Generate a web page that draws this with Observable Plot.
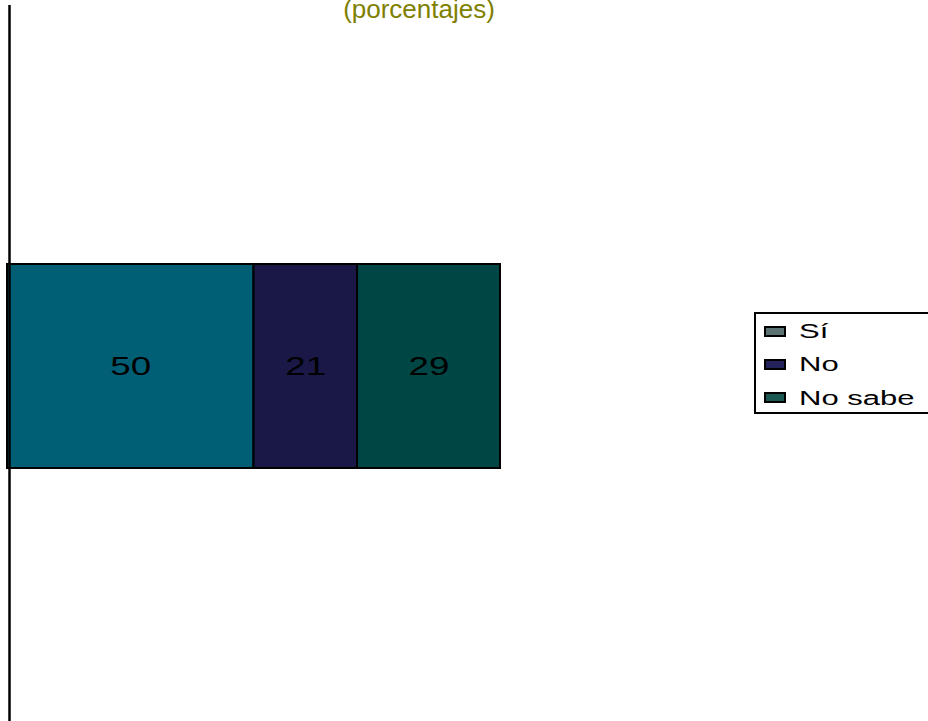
<!DOCTYPE html>
<html>
<head>
<meta charset="utf-8">
<script src="https://cdn.jsdelivr.net/npm/d3@7"></script>
<script src="https://cdn.jsdelivr.net/npm/@observablehq/plot@0.6"></script>
<style>
  html, body { margin: 0; padding: 0; background: #fff; overflow: hidden; }
  #wrap { position: relative; width: 928px; height: 721px; font-family: "Liberation Sans", Arial, sans-serif; }
  #chart { position: absolute; left: 0; top: 0; }
  #title { position: absolute; left: 0; width: 838px; top: -6px; text-align: center; color: #808000; font-size: 26px; line-height: 30px; z-index: 2; }
  #legend { position: absolute; left: 754px; top: 312px; width: 200px; height: 102px; border: 2px solid #000; background: #fff; box-sizing: border-box; }
  .item { position: absolute; left: 43px; font-size: 20px; color: #000; line-height: 20px; white-space: nowrap; transform: scaleX(1.55); transform-origin: left center; }
  .sw { position: absolute; left: 8px; width: 22px; height: 11px; border: 2px solid #000; box-sizing: border-box; }
</style>
</head>
<body>
<div id="wrap">
  <div id="chart"></div>
  <div id="title">(porcentajes)</div>
  <div id="legend"></div>
</div>
<script>
const categories = ["Sí", "No", "No sabe"];
const values = [50, 21, 29];
const colors = ["#005e75", "#191846", "#004645"];
const legendColors = ["#5a7272", "#23225a", "#1b5854"];

const data = categories.map((c, i) => ({group: "total", cat: c, value: values[i]}));

const chart = Plot.plot({
  width: 928,
  height: 721,
  marginLeft: 7,
  marginRight: 428,
  marginTop: 5,
  marginBottom: 0,
  x: {domain: [0, 100], axis: null},
  y: {domain: ["total"], range: [264, 468], padding: 0, axis: null},
  color: {domain: categories, range: colors},
  marks: [
    Plot.barX(data, {x: "value", y: "group", z: "cat", fill: "cat", stroke: "#000", strokeWidth: 2}),
    Plot.text(data, Plot.stackX({x: "value", y: "group", z: "cat", text: d => String(d.value), fill: "#000", fontSize: 25, fontFamily: "Liberation Sans, Arial, sans-serif"})),
    Plot.ruleX([0], {dx: 2, stroke: "#000", strokeWidth: 2.5})
  ]
});
document.getElementById("chart").appendChild(chart);

// horizontally stretch the bar labels like the reference
d3.select(chart).selectAll('g[aria-label="text"] text').each(function() {
  const bb = this.getBBox();
  const cx = bb.x + bb.width / 2;
  const t = this.getAttribute("transform") || "";
  this.setAttribute("transform", `${t} translate(${cx} 0) scale(1.47 1) translate(${-cx} 0)`);
});

const legend = document.getElementById("legend");
const textTops = [7, 40, 74];
const swTops = [12, 45, 78];
categories.forEach((c, i) => {
  const s = document.createElement("div");
  s.className = "sw";
  s.style.top = swTops[i] + "px";
  s.style.background = legendColors[i];
  legend.appendChild(s);
  const d = document.createElement("div");
  d.className = "item";
  d.style.top = textTops[i] + "px";
  d.textContent = c;
  legend.appendChild(d);
});
</script>
</body>
</html>
